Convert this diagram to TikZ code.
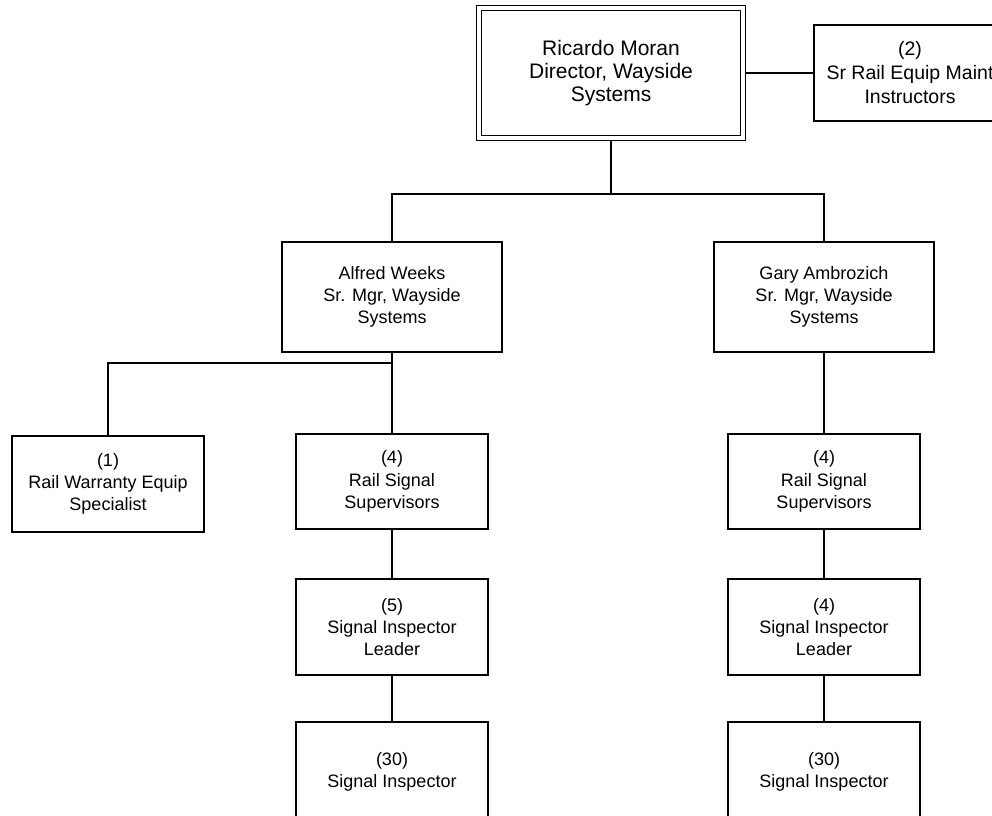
\documentclass[tikz,border=0pt]{standalone}
\usepackage{fontspec}
\setmainfont{Liberation Sans}
\usetikzlibrary{backgrounds}
\begin{document}
\begin{tikzpicture}[x=1pt,y=-1pt,
  box/.style={draw=black, line width=1.8pt, fill=white, rectangle, inner sep=0pt,
    align=center, minimum width=192pt, minimum height=96pt,
    font=\fontsize{18}{22.3}\selectfont},
  mgr/.style={box, minimum width=220pt, minimum height=110pt},
  topbox/.style={box, line width=1.5pt, double=white, double distance=3.5pt, minimum width=264pt,
    minimum height=130pt, font=\fontsize{21}{23.3}\selectfont},
  sidebox/.style={box, minimum height=96pt, font=\fontsize{19.5}{24}\selectfont},
  link/.style={draw=black, line width=1.8pt}]
\useasboundingbox (0,0) rectangle (992,815);
\clip (0,0) rectangle (992,815);

\node[topbox] (dir) at (611,73) {Ricardo Moran\\Director, Wayside\\Systems};
\node[sidebox] (ins) at (910,73) {(2)\\Sr Rail Equip Maint\\Instructors};

\node[mgr] (alf) at (392,297) {Alfred Weeks\\Sr. Mgr, Wayside\\Systems};
\node[mgr] (gar) at (824,297) {Gary Ambrozich\\Sr. Mgr, Wayside\\Systems};

\node[box] (war) at (108,484) {(1)\\Rail Warranty Equip\\Specialist};
\node[box, minimum height=95pt] (supl) at (392,481.5) {(4)\\Rail Signal\\Supervisors};
\node[box] (leadl) at (392,627) {(5)\\Signal Inspector\\Leader};
\node[box, minimum height=100pt] (inspl) at (392,772) {(30)\\Signal Inspector};

\node[box, minimum height=95pt] (supr) at (824,481.5) {(4)\\Rail Signal\\Supervisors};
\node[box] (leadr) at (824,627) {(4)\\Signal Inspector\\Leader};
\node[box, minimum height=100pt] (inspr) at (824,772) {(30)\\Signal Inspector};

\begin{pgfonlayer}{background}
\coordinate (j1) at (611,194);
\coordinate (j2) at (392,363);
\path[link] (dir.south) -- (j1);
\path[link] (alf.north) |- (j1) -| (gar.north);
\path[link] (dir.east) -- (ins.west);
\path[link] (alf.south) -- (supl.north);
\path[link] (war.north) |- (j2);
\path[link] (supl.south) -- (leadl.north);
\path[link] (leadl.south) -- (inspl.north);
\path[link] (gar.south) -- (supr.north);
\path[link] (supr.south) -- (leadr.north);
\path[link] (leadr.south) -- (inspr.north);
\end{pgfonlayer}
\end{tikzpicture}
\end{document}
